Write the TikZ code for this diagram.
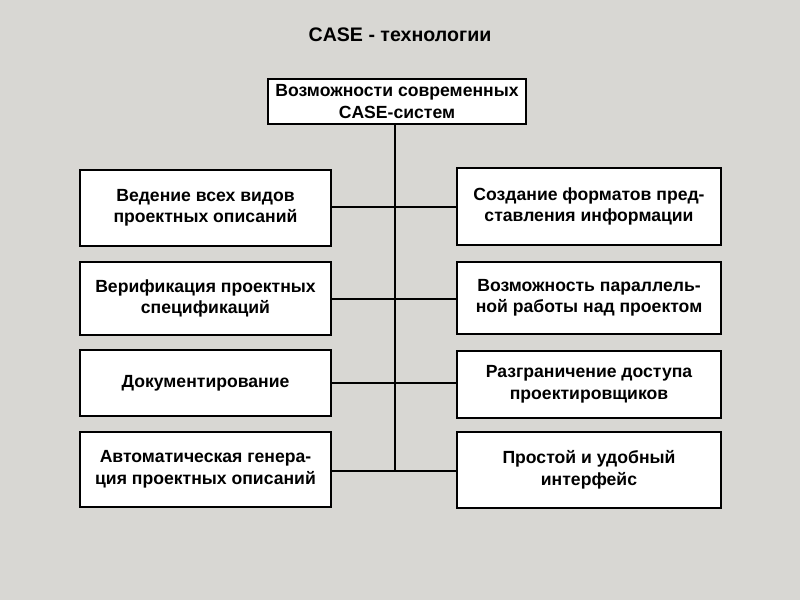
\documentclass[tikz,border=0pt]{standalone}
\usepackage{fontspec}
\setmainfont{Liberation Sans}
\begin{document}
\begin{tikzpicture}[x=1pt,y=-1pt,
  box/.style={draw=black,fill=white,line width=1.2pt,rectangle,inner sep=0pt,
    align=center,font=\bfseries\fontsize{17.6}{21.5}\selectfont},
  conn/.style={draw=black,line width=1.8pt}]
\fill[fill={rgb,255:red,216;green,215;blue,211}] (0,0) rectangle (800,600);
\useasboundingbox (0,0) rectangle (800,600);
\node (title) at (400,35) {\bfseries\fontsize{19.6}{22}\selectfont CASE - технологии};
\node[box,minimum width=258pt,minimum height=45pt] (top) at (397,101.5) {Возможности современных\\CASE-систем};
% left column
\node[box,minimum width=251pt,minimum height=76pt] (l1) at (205.5,208) {Ведение всех видов\\проектных описаний};
\node[box,minimum width=251pt,minimum height=73pt] (l2) at (205.5,298.5) {Верификация проектных\\спецификаций};
\node[box,minimum width=251pt,minimum height=66pt] (l3) at (205.5,383) {Документирование};
\node[box,minimum width=251pt,minimum height=75pt] (l4) at (205.5,469.5) {Автоматическая генера-\\ция проектных описаний};
% right column
\node[box,minimum width=264pt,minimum height=77pt] (r1) at (589,206.5) {Создание форматов пред-\\ставления информации};
\node[box,minimum width=264pt,minimum height=72pt] (r2) at (589,298) {Возможность параллель-\\ной работы над проектом};
\node[box,minimum width=264pt,minimum height=67pt] (r3) at (589,384.5) {Разграничение доступа\\проектировщиков};
\node[box,minimum width=264pt,minimum height=76pt] (r4) at (589,470) {Простой и удобный\\интерфейс};
% trunk
\coordinate (j1) at (395,207);
\coordinate (j2) at (395,299);
\coordinate (j3) at (395,383);
\coordinate (j4) at (395,471);
\draw[conn] (top.south -| j1) -- (j4);
\draw[conn] (l1.east |- j1) -- (r1.west |- j1);
\draw[conn] (l2.east |- j2) -- (r2.west |- j2);
\draw[conn] (l3.east |- j3) -- (r3.west |- j3);
\draw[conn] (l4.east |- j4) -- (r4.west |- j4);
\end{tikzpicture}
\end{document}
